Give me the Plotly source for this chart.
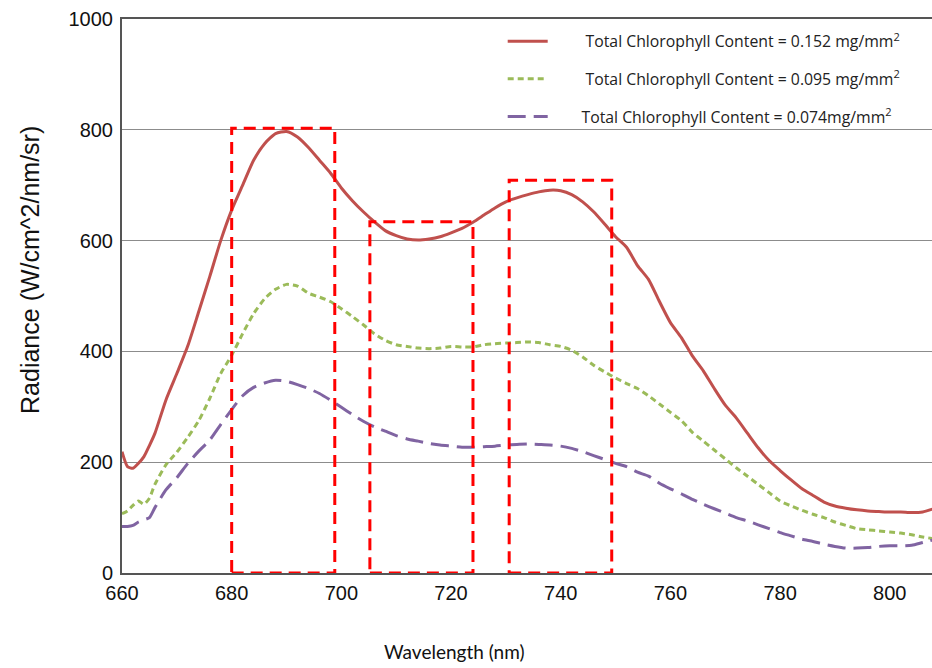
import plotly.graph_objects as go

# Wavelength grid (nm)
wavelength = [660, 661, 662, 663, 664, 665, 666, 668, 670, 672, 674, 676, 678, 680,
              682, 684, 686, 688, 690, 692, 694, 696, 698, 700, 702, 704, 706, 708,
              710, 712, 714, 716, 718, 720, 722, 724, 726, 728, 730, 732, 734, 736,
              738, 740, 742, 744, 746, 748, 750, 752, 754, 756, 758, 760, 762, 764,
              766, 768, 770, 772, 774, 776, 778, 780, 782, 784, 786, 788, 790, 792,
              794, 796, 798, 800, 802, 804, 806, 808]

# Radiance spectra for three chlorophyll levels
rad_152 = [219, 192, 189, 198, 210, 230, 252, 312, 360, 410, 472, 535, 600, 655,
           700, 745, 775, 793, 797, 787, 768, 745, 722, 695, 672, 652, 634, 618,
           609, 603, 601, 603, 607, 614, 622, 633, 646, 659, 670, 677, 683, 688,
           691, 690, 683, 670, 652, 630, 607, 588, 555, 530, 490, 452, 425, 392,
           365, 333, 303, 280, 253, 226, 203, 185, 168, 152, 140, 128, 121, 117,
           114, 112, 111, 110, 110, 109, 110, 116]

rad_095 = [107, 112, 122, 130, 124, 135, 160, 195, 218, 245, 275, 315, 360, 393,
           432, 468, 495, 512, 521, 518, 505, 498, 490, 477, 463, 448, 432, 420,
           412, 409, 406, 405, 406, 409, 408, 408, 412, 414, 415, 416, 417, 416,
           412, 409, 402, 390, 375, 363, 352, 342, 333, 320, 305, 290, 275, 254,
           238, 222, 206, 190, 175, 160, 145, 130, 121, 113, 106, 100, 92, 86,
           80, 78, 76, 74, 72, 69, 65, 62]

rad_074 = [84, 84, 86, 92, 96, 100, 118, 150, 172, 198, 220, 240, 268, 295,
           320, 335, 343, 348, 346, 340, 333, 324, 312, 299, 286, 274, 264, 256,
           248, 242, 238, 234, 231, 229, 227, 227, 228, 229, 231, 232, 233, 232,
           231, 229, 225, 219, 212, 205, 198, 192, 182, 175, 162, 152, 143, 133,
           124, 116, 108, 100, 94, 87, 80, 73, 67, 61, 57, 52, 48, 45,
           45, 46, 48, 49, 49, 50, 55, 60]

NB = "\u00a0"
series_names = [
    NB * 8 + "Total Chlorophyll Content = 0.152 mg/mm<sup>2</sup>",
    NB * 8 + "Total Chlorophyll Content = 0.095 mg/mm<sup>2</sup>",
    NB * 7 + "Total Chlorophyll Content = 0.074mg/mm<sup>2</sup>",
]

# Highlighted spectral windows: start, end (nm) and box height
window_start = [680.0, 705.2, 730.6]
window_end = [698.8, 724.0, 749.3]
window_top = [803, 634, 709]

x_ticks = [660, 680, 700, 720, 740, 760, 780, 800]
y_ticks = [0, 200, 400, 600, 800, 1000]

fig = go.Figure()

styles = [
    dict(color="#C0504D", width=3, dash="solid"),
    dict(color="#9BBB59", width=3, dash="6px,4px"),
    dict(color="#8064A2", width=3, dash="18px,8px"),
]
for i, (vals, name, st) in enumerate(zip([rad_152, rad_095, rad_074], series_names, styles)):
    fig.add_trace(go.Scatter(
        x=wavelength, y=vals, mode="lines", name=name,
        line=dict(color=st["color"], width=st["width"], dash=st["dash"], shape="spline", smoothing=0.6),
        legendgroup=f"g{i}",
    ))

for x0, x1, top in zip(window_start, window_end, window_top):
    fig.add_shape(type="rect", xref="x", yref="y", x0=x0, x1=x1, y0=0, y1=top,
                  line=dict(color="#FF0000", width=3, dash="12px,7px"),
                  fillcolor="rgba(0,0,0,0)", layer="above")

fig.update_layout(
    width=932, height=668,
    margin=dict(l=122, r=0, t=19, b=95),
    plot_bgcolor="white", paper_bgcolor="white",
    showlegend=True,
    legend=dict(
        x=0.47, y=0.99, xanchor="left", yanchor="top",
        bgcolor="rgba(0,0,0,0)",
        font=dict(family="Open Sans", size=15.8, color="#222222"),
        itemwidth=40, tracegroupgap=14,
    ),
    xaxis=dict(
        range=[660, 807.7], tickvals=x_ticks, ticks="",
        showgrid=False, zeroline=False,
        showline=True, linecolor="#555555", linewidth=2, mirror=True,
        ticklabelstandoff=1,
        tickfont=dict(family="Liberation Sans, Arial", size=20, color="#111111"),
    ),
    yaxis=dict(
        range=[0, 1000], tickvals=y_ticks, ticks="",
        showgrid=True, gridcolor="#8C8C8C", gridwidth=1, zeroline=False,
        showline=True, linecolor="#555555", linewidth=2,
        ticklabelstandoff=3,
        tickfont=dict(family="Liberation Sans, Arial", size=20, color="#111111"),
    ),
    annotations=[
        dict(text="Radiance (W/cm^2/nm/sr)", xref="paper", yref="paper",
             x=-0.1136, y=0.547, xanchor="center", yanchor="middle",
             textangle=-90, showarrow=False,
             font=dict(family="Liberation Sans, Arial", size=25, color="#111111")),
        dict(text="Wavelength (nm)", xref="paper", yref="paper",
             x=0.411, y=-0.141, xanchor="center", yanchor="middle",
             showarrow=False,
             font=dict(family="Lato", size=19, color="#111111")),
    ],
)

fig.write_html("out.html")
